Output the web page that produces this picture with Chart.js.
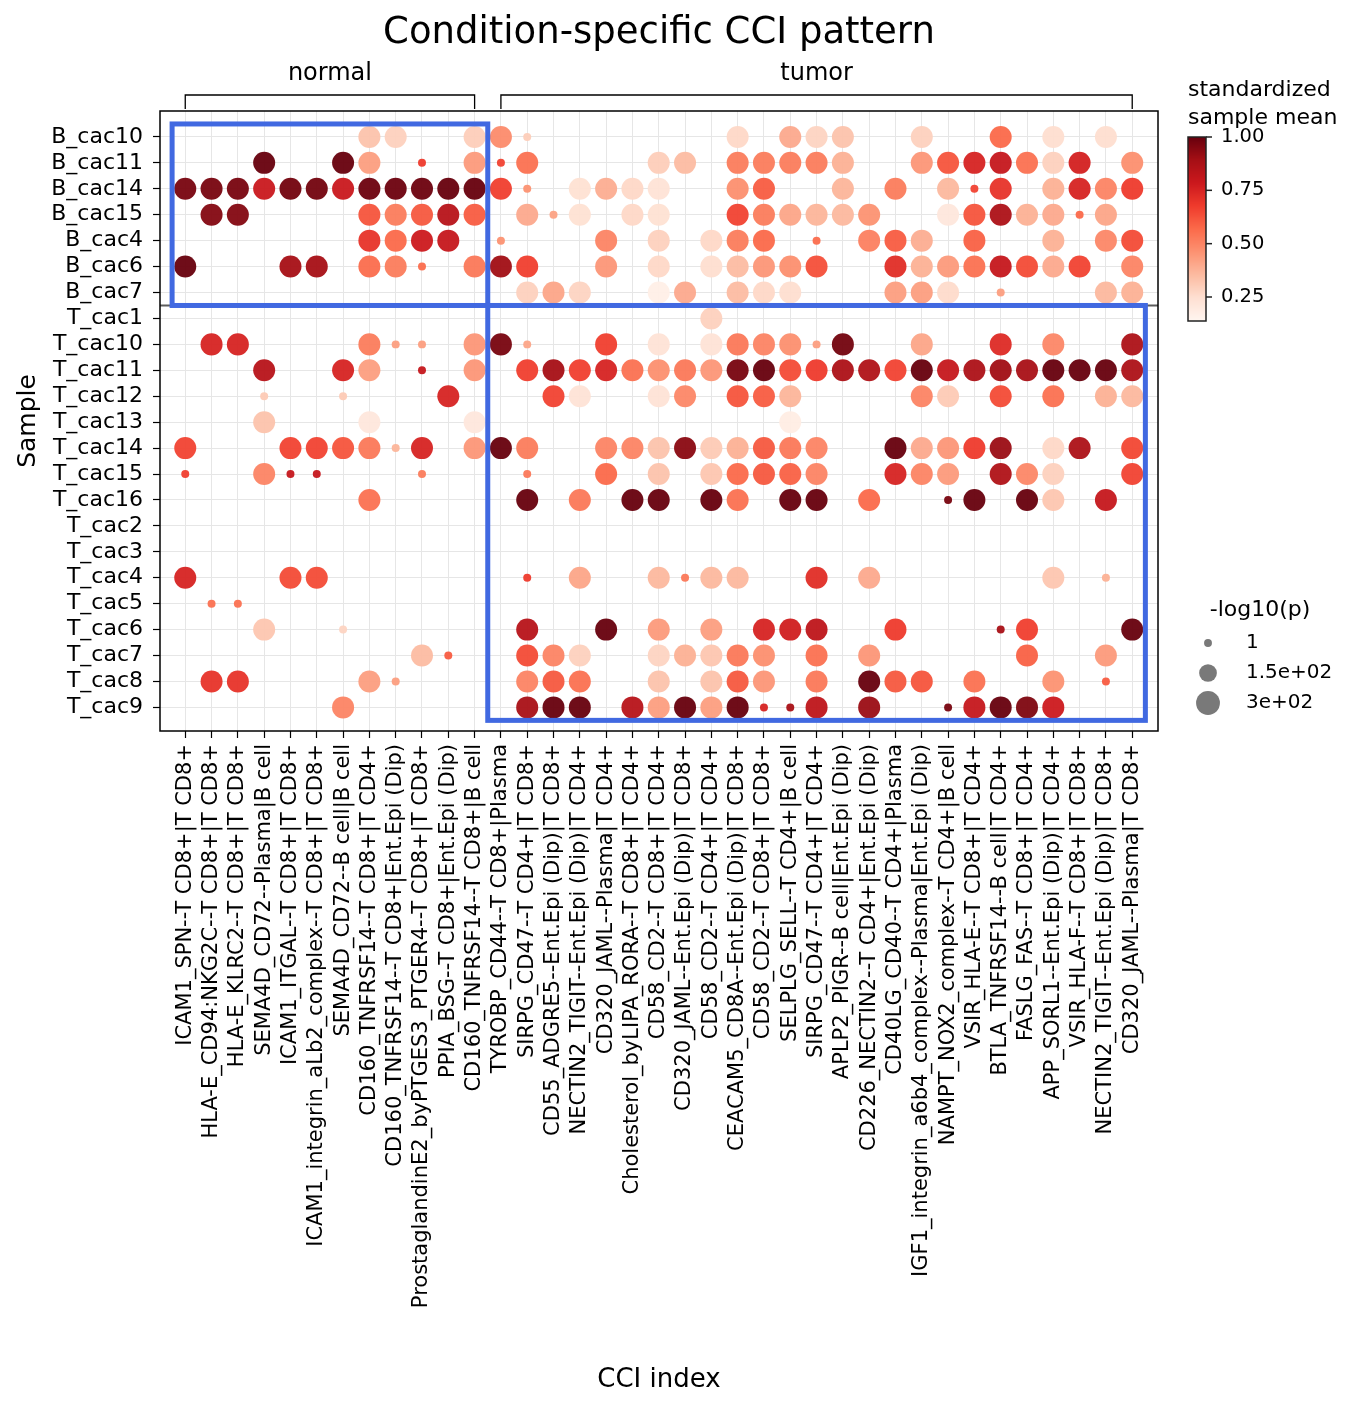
<!DOCTYPE html>
<html>
<head>
<meta charset="utf-8">
<title>Condition-specific CCI pattern</title>
<script src="https://cdn.jsdelivr.net/npm/chart.js@4.4.1/dist/chart.umd.min.js"></script>
<style>
    html, body { margin: 0; padding: 0; background: #fff; }
    #wrap { width: 1359px; height: 1410px; }
</style>
</head>
<body>
<div id="wrap"><canvas id="cci_chart" width="1359" height="1410"></canvas></div>
<script>
var samples = ['B_cac10', 'B_cac11', 'B_cac14', 'B_cac15', 'B_cac4', 'B_cac6', 'B_cac7',
    'T_cac1', 'T_cac10', 'T_cac11', 'T_cac12', 'T_cac13', 'T_cac14', 'T_cac15', 'T_cac16',
    'T_cac2', 'T_cac3', 'T_cac4', 'T_cac5', 'T_cac6', 'T_cac7', 'T_cac8', 'T_cac9'];

var cciIndex = [
    'ICAM1_SPN--T CD8+|T CD8+',
    'HLA-E_CD94:NKG2C--T CD8+|T CD8+',
    'HLA-E_KLRC2--T CD8+|T CD8+',
    'SEMA4D_CD72--Plasma|B cell',
    'ICAM1_ITGAL--T CD8+|T CD8+',
    'ICAM1_integrin_aLb2_complex--T CD8+|T CD8+',
    'SEMA4D_CD72--B cell|B cell',
    'CD160_TNFRSF14--T CD8+|T CD4+',
    'CD160_TNFRSF14--T CD8+|Ent.Epi (Dip)',
    'ProstaglandinE2_byPTGES3_PTGER4--T CD8+|T CD8+',
    'PPIA_BSG--T CD8+|Ent.Epi (Dip)',
    'CD160_TNFRSF14--T CD8+|B cell',
    'TYROBP_CD44--T CD8+|Plasma',
    'SIRPG_CD47--T CD4+|T CD8+',
    'CD55_ADGRE5--Ent.Epi (Dip)|T CD8+',
    'NECTIN2_TIGIT--Ent.Epi (Dip)|T CD4+',
    'CD320_JAML--Plasma|T CD4+',
    'Cholesterol_byLIPA_RORA--T CD8+|T CD4+',
    'CD58_CD2--T CD8+|T CD4+',
    'CD320_JAML--Ent.Epi (Dip)|T CD8+',
    'CD58_CD2--T CD4+|T CD4+',
    'CEACAM5_CD8A--Ent.Epi (Dip)|T CD8+',
    'CD58_CD2--T CD8+|T CD8+',
    'SELPLG_SELL--T CD4+|B cell',
    'SIRPG_CD47--T CD4+|T CD4+',
    'APLP2_PIGR--B cell|Ent.Epi (Dip)',
    'CD226_NECTIN2--T CD4+|Ent.Epi (Dip)',
    'CD40LG_CD40--T CD4+|Plasma',
    'IGF1_integrin_a6b4_complex--Plasma|Ent.Epi (Dip)',
    'NAMPT_NOX2_complex--T CD4+|B cell',
    'VSIR_HLA-E--T CD8+|T CD4+',
    'BTLA_TNFRSF14--B cell|T CD4+',
    'FASLG_FAS--T CD8+|T CD4+',
    'APP_SORL1--Ent.Epi (Dip)|T CD4+',
    'VSIR_HLA-F--T CD8+|T CD8+',
    'NECTIN2_TIGIT--Ent.Epi (Dip)|T CD8+',
    'CD320_JAML--Plasma|T CD8+'
];

// condition groups (columns / rows)
var groupNames = ['normal', 'tumor'];
var groupColumnCounts = [12, 25];
var normalSampleCount = 7;

// standardized sample mean, one row per sample (0 = no dot)
var meanRows = [
    [0,0,0,0,0,0,0,.33,.29,0, 0,.30,.48,.30,0,0,0,0,0,0, 0,.27,0,.40,.28,.33,0,0,.29,0, 0,.57,0,.25,0,.25,0],
    [0,0,0,1,0,0,1,.43,0,.68, 0,.44,.66,.55,0,0,0,0,.30,.35, 0,.52,.52,.52,.52,.38,0,0,.45,.62, .75,.80,.55,.29,.76,0,.47],
    [.97,.97,.97,.79,.98,.98,.79,.99,.99,.99, 1,1,.67,.46,0,.24,.39,.27,.23,0, 0,.47,.60,0,0,.37,0,.52,0,.36, .66,.70,0,.38,.75,.50,.68],
    [0,.95,.95,0,0,0,0,.62,.52,.61, .84,.60,0,.40,.42,.24,0,.27,.24,0, 0,.66,.52,.41,.37,.36,.46,0,0,.21, .62,.87,.38,.40,.57,.41,0],
    [0,0,0,0,0,0,0,.70,.57,.78, .80,0,.46,0,0,0,.50,0,.29,0, .27,.52,.57,0,.56,0,.51,.60,.39,0, .59,0,0,.38,0,.49,.64],
    [1,0,0,0,.89,.89,0,.56,.52,.56, 0,.53,.90,.67,0,0,.45,0,.27,0, .25,.35,.45,.47,.63,0,0,.72,.38,.44, .55,.80,.64,.40,.66,0,.50],
    [0,0,0,0,0,0,0,0,0,0, 0,0,0,.29,.41,.28,0,0,.17,.40, 0,.35,.27,.25,0,0,0,.43,.43,.26, 0,.43,0,0,0,.36,.38],
    [0,0,0,0,0,0,0,0,0,0, 0,0,0,0,0,0,0,0,0,0, .29,0,0,0,0,0,0,0,0,0, 0,0,0,0,0,0,0],
    [0,.75,.75,0,0,0,0,.52,.43,.43, 0,.45,.97,.41,0,0,.67,0,.23,0, .23,.53,.50,.47,.43,.98,0,0,.41,0, 0,.73,0,.49,0,0,.87],
    [0,0,0,.84,0,0,.75,.43,0,.80, 0,.45,0,.67,.89,.67,.75,.55,.47,.53, .45,.97,1,.64,.68,.87,.86,.66,1,.80, .87,.90,.88,1,1,1,.87],
    [0,0,0,.31,0,0,.31,0,0,0, .75,0,0,0,.66,.23,0,0,.23,.49, 0,.62,.60,.37,0,0,0,0,.50,.31, 0,.64,0,.55,0,.38,.36],
    [0,0,0,.33,0,0,0,.21,0,0, 0,.21,0,0,0,0,0,0,0,0, 0,0,0,.18,0,0,0,0,0,0, 0,0,0,0,0,0,0],
    [.66,0,0,0,.66,.66,.62,.53,.37,.75, 0,.45,1,.52,0,0,.50,.50,.33,.94, .31,.38,.61,.53,.50,0,0,1,.40,.45, .68,.91,0,.27,.87,0,.65],
    [.67,0,0,.50,.80,.80,0,0,0,.52, 0,0,0,.53,0,0,.57,0,.33,0, .32,.57,.61,.59,.50,0,0,.75,.50,.44, 0,.86,.49,.29,0,0,.66],
    [0,0,0,0,0,0,0,.55,0,0, 0,0,0,1,0,.53,0,1,1,0, 1,.55,0,1,1,0,.57,0,0,.97, 1,0,1,.32,0,.80,0],
    [0,0,0,0,0,0,0,0,0,0, 0,0,0,0,0,0,0,0,0,0, 0,0,0,0,0,0,0,0,0,0, 0,0,0,0,0,0,0],
    [0,0,0,0,0,0,0,0,0,0, 0,0,0,0,0,0,0,0,0,0, 0,0,0,0,0,0,0,0,0,0, 0,0,0,0,0,0,0],
    [.75,0,0,0,.64,.64,0,0,0,0, 0,0,0,.68,0,.41,0,0,.36,.53, .36,.36,0,0,.72,0,.40,0,0,0, 0,0,0,.32,0,.38,0],
    [0,.55,.55,0,0,0,0,0,0,0, 0,0,0,0,0,0,0,0,0,0, 0,0,0,0,0,0,0,0,0,0, 0,0,0,0,0,0,0],
    [0,0,0,.32,0,0,.28,0,0,0, 0,0,0,.84,0,0,1,0,.44,0, .43,0,.75,.77,.82,0,0,.68,0,0, 0,.88,.67,0,0,0,1],
    [0,0,0,0,0,0,0,0,0,.35, .60,0,0,.64,.50,.29,0,0,.28,.38, .32,.53,.47,0,.55,0,.45,0,0,0, 0,0,.59,0,0,.44,0],
    [0,.70,.70,0,0,0,0,.43,.43,0, 0,0,0,.50,.61,.55,0,0,.33,0, .33,.61,.45,0,.53,0,1,.61,.62,0, .55,0,0,.46,0,.60,0],
    [0,0,0,0,0,0,.50,0,0,0, 0,0,0,.88,1,1,0,.84,.43,1, .43,1,.75,.88,.82,0,.91,0,0,.97, .80,1,.96,.78,0,0,0]
];

// -log10(p), same layout as meanRows
var logpRows = [
    [0,0,0,0,0,0,0,250,250,0, 0,250,250,2,0,0,0,0,0,0, 0,250,0,250,250,250,0,0,250,0, 0,250,0,250,0,250,0],
    [0,0,0,250,0,0,250,250,0,2, 0,250,2,250,0,0,0,0,250,250, 0,250,250,250,250,250,0,0,250,250, 250,250,250,250,250,0,250],
    [250,250,250,250,250,250,250,250,250,250, 250,250,250,2,0,250,250,250,250,0, 0,250,250,0,0,250,0,250,0,250, 2,250,0,250,250,250,250],
    [0,250,250,0,0,0,0,250,250,250, 250,250,0,250,2,250,0,250,250,0, 0,250,250,250,250,250,250,0,0,250, 250,250,250,250,2,250,0],
    [0,0,0,0,0,0,0,250,250,250, 250,0,2,0,0,0,250,0,250,0, 250,250,250,0,2,0,250,250,250,0, 250,0,0,250,0,250,250],
    [250,0,0,0,250,250,0,250,250,2, 0,250,250,250,0,0,250,0,250,0, 250,250,250,250,250,0,0,250,250,250, 250,250,250,250,250,0,250],
    [0,0,0,0,0,0,0,0,0,0, 0,0,0,250,250,250,0,0,250,250, 0,250,250,250,0,0,0,250,250,250, 0,2,0,0,0,250,250],
    [0,0,0,0,0,0,0,0,0,0, 0,0,0,0,0,0,0,0,0,0, 250,0,0,0,0,0,0,0,0,0, 0,0,0,0,0,0,0],
    [0,250,250,0,0,0,0,250,2,2, 0,250,250,2,0,0,250,0,250,0, 250,250,250,250,2,250,0,0,250,0, 0,250,0,250,0,0,250],
    [0,0,0,250,0,0,250,250,0,2, 0,250,0,250,250,250,250,250,250,250, 250,250,250,250,250,250,250,250,250,250, 250,250,250,250,250,250,250],
    [0,0,0,2,0,0,2,0,0,0, 250,0,0,0,250,250,0,0,250,250, 0,250,250,250,0,0,0,0,250,250, 0,250,0,250,0,250,250],
    [0,0,0,250,0,0,0,250,0,0, 0,250,0,0,0,0,0,0,0,0, 0,0,0,250,0,0,0,0,0,0, 0,0,0,0,0,0,0],
    [250,0,0,0,250,250,250,250,2,250, 0,250,250,250,0,0,250,250,250,250, 250,250,250,250,250,0,0,250,250,250, 250,250,0,250,250,0,250],
    [2,0,0,250,2,2,0,0,0,2, 0,0,0,2,0,0,250,0,250,0, 250,250,250,250,250,0,0,250,250,250, 0,250,250,250,0,0,250],
    [0,0,0,0,0,0,0,250,0,0, 0,0,0,250,0,250,0,250,250,0, 250,250,0,250,250,0,250,0,0,2, 250,0,250,250,0,250,0],
    [0,0,0,0,0,0,0,0,0,0, 0,0,0,0,0,0,0,0,0,0, 0,0,0,0,0,0,0,0,0,0, 0,0,0,0,0,0,0],
    [0,0,0,0,0,0,0,0,0,0, 0,0,0,0,0,0,0,0,0,0, 0,0,0,0,0,0,0,0,0,0, 0,0,0,0,0,0,0],
    [250,0,0,0,250,250,0,0,0,0, 0,0,0,2,0,250,0,0,250,2, 250,250,0,0,250,0,250,0,0,0, 0,0,0,250,0,2,0],
    [0,2,2,0,0,0,0,0,0,0, 0,0,0,0,0,0,0,0,0,0, 0,0,0,0,0,0,0,0,0,0, 0,0,0,0,0,0,0],
    [0,0,0,250,0,0,2,0,0,0, 0,0,0,250,0,0,250,0,250,0, 250,0,250,250,250,0,0,250,0,0, 0,2,250,0,0,0,250],
    [0,0,0,0,0,0,0,0,0,250, 2,0,0,250,250,250,0,0,250,250, 250,250,250,0,250,0,250,0,0,0, 0,0,250,0,0,250,0],
    [0,250,250,0,0,0,0,250,2,0, 0,0,0,250,250,250,0,0,250,0, 250,250,250,0,250,0,250,250,250,0, 250,0,0,250,0,2,0],
    [0,0,0,0,0,0,250,0,0,0, 0,0,0,250,250,250,0,250,250,250, 250,250,2,2,250,0,250,0,0,2, 250,250,250,250,0,0,0]
];

var colorTicks = [0.25, 0.50, 0.75, 1.00];
var colorMin = 0.1375;
var colorMax = 1.0;
var sizeLegendValues = [1, 150, 300];
var sizeLegendLabels = ['1', '1.5e+02', '3e+02'];

var FONT = 'DejaVu Sans';

// matplotlib Reds
var REDS = [[255,245,240],[254,224,210],[252,187,161],[252,146,114],[251,106,74],
            [239,59,44],[203,24,29],[165,15,21],[103,0,13]];

function redsColor(v, alpha) {
    var t = (v - colorMin) / (colorMax - colorMin);
    t = Math.max(0, Math.min(1, t)) * (REDS.length - 1);
    var i = Math.min(Math.floor(t), REDS.length - 2), f = t - i;
    var c = [0, 1, 2].map(function (k) {
        return Math.round(REDS[i][k] + (REDS[i + 1][k] - REDS[i][k]) * f);
    });
    return 'rgba(' + c.join(',') + ',' + alpha + ')';
}

function dotRadius(logp) {
    return Math.sqrt(60.6 + 1.694 * logp) / 2;
}

var points = [], pointColors = [];
for (var i = 0; i < samples.length; i++) {
    for (var j = 0; j < cciIndex.length; j++) {
        if (meanRows[i][j] > 0) {
            points.push({x: j, y: i, r: dotRadius(logpRows[i][j])});
            pointColors.push(redsColor(meanRows[i][j], 0.95));
        }
    }
}

function strokeLine(ctx, x1, y1, x2, y2) {
    ctx.beginPath();
    ctx.moveTo(x1, y1);
    ctx.lineTo(x2, y2);
    ctx.stroke();
}

// 제목, 그룹 표시, 색상바, 크기 범례
var decorPlugin = {
    id: 'decor',
    afterDatasetsDraw: function (chart) {
        var ctx = chart.ctx, xs = chart.scales.x, ys = chart.scales.y, a = chart.chartArea;
        ctx.save();

        // B / T separator
        var ySep = ys.getPixelForValue(normalSampleCount - 0.5);
        ctx.strokeStyle = '#5c5c5c';
        ctx.lineWidth = 2;
        strokeLine(ctx, a.left, ySep, a.right, ySep);

        // condition-specific blocks
        var colSplit = xs.getPixelForValue(groupColumnCounts[0] - 0.5);
        ctx.strokeStyle = '#4169e1';
        ctx.lineWidth = 5;
        var x0 = xs.getPixelForValue(-0.5), y0 = ys.getPixelForValue(-0.5);
        ctx.strokeRect(x0, y0, colSplit - x0, ySep - y0);
        var x1 = xs.getPixelForValue(cciIndex.length - 0.5), y1 = ys.getPixelForValue(samples.length - 0.5);
        ctx.strokeRect(colSplit, ySep, x1 - colSplit, y1 - ySep);

        // frame
        ctx.strokeStyle = '#000';
        ctx.lineWidth = 1.5;
        ctx.strokeRect(a.left, a.top, a.right - a.left, a.bottom - a.top);

        // group brackets
        ctx.lineWidth = 1.3;
        ctx.fillStyle = '#000';
        ctx.font = '24px "' + FONT + '"';
        ctx.textAlign = 'center';
        ctx.textBaseline = 'middle';
        var start = 0;
        for (var g = 0; g < groupNames.length; g++) {
            var gx0 = xs.getPixelForValue(start), gx1 = xs.getPixelForValue(start + groupColumnCounts[g] - 1);
            ctx.beginPath();
            ctx.moveTo(gx0, a.top - 2);
            ctx.lineTo(gx0, 95);
            ctx.lineTo(gx1, 95);
            ctx.lineTo(gx1, a.top - 2);
            ctx.stroke();
            ctx.fillText(groupNames[g], (gx0 + gx1) / 2, 74);
            start += groupColumnCounts[g];
        }

        // title
        ctx.font = '37px "' + FONT + '"';
        ctx.fillText('Condition-specific CCI pattern', (a.left + a.right) / 2, 33);

        // colorbar
        var cbL = 1188, cbR = 1206, cbT = 137, cbB = 321;
        for (var yy = cbT; yy < cbB; yy++) {
            var v = colorMax - (yy + 0.5 - cbT) / (cbB - cbT) * (colorMax - colorMin);
            ctx.fillStyle = redsColor(v, 1);
            ctx.fillRect(cbL, yy, cbR - cbL, 1);
        }
        ctx.strokeStyle = '#222';
        ctx.lineWidth = 1.5;
        ctx.strokeRect(cbL, cbT, cbR - cbL, cbB - cbT);
        ctx.fillStyle = '#000';
        ctx.textAlign = 'left';
        ctx.font = '19.5px "' + FONT + '"';
        colorTicks.forEach(function (t) {
            var ty = cbB - (t - colorMin) / (colorMax - colorMin) * (cbB - cbT);
            strokeLine(ctx, cbR, ty, cbR + 6, ty);
            ctx.fillText(t.toFixed(2), cbR + 15, ty);
        });
        ctx.font = '22px "' + FONT + '"';
        ctx.fillText('standardized', cbL, 90);
        ctx.fillText('sample mean', cbL, 118);

        // size legend
        ctx.textAlign = 'center';
        ctx.fillText('-log10(p)', 1260, 610);
        ctx.textAlign = 'left';
        ctx.font = '20px "' + FONT + '"';
        var legendY = [643, 673, 703];
        sizeLegendValues.forEach(function (s, k) {
            ctx.fillStyle = 'rgba(110,110,110,0.92)';
            ctx.beginPath();
            ctx.arc(1208, legendY[k], dotRadius(s), 0, Math.PI * 2);
            ctx.fill();
            ctx.fillStyle = '#000';
            ctx.fillText(sizeLegendLabels[k], 1246, legendY[k]);
        });

        ctx.restore();
    }
};

Chart.defaults.font.family = FONT;
Chart.defaults.color = '#000';

new Chart(document.getElementById('cci_chart').getContext('2d'), {
    type: 'bubble',
    data: {
        datasets: [{
            data: points,
            backgroundColor: pointColors,
            borderWidth: 0,
            hoverRadius: 0
        }]
    },
    options: {
        responsive: false,
        animation: false,
        events: [],
        layout: {padding: {top: 111, right: 201, bottom: 0, left: 0}},
        plugins: {legend: {display: false}, tooltip: {enabled: false}},
        scales: {
            x: {
                type: 'linear',
                min: -0.96,
                max: 36.98,
                afterBuildTicks: function (s) {
                    s.ticks = cciIndex.map(function (_, k) { return {value: k}; });
                },
                afterFit: function (s) { s.height = 679; },
                border: {display: false},
                grid: {color: '#e6e6e6', tickColor: '#000', tickLength: 7, tickWidth: 1.2},
                ticks: {
                    autoSkip: false, minRotation: 90, maxRotation: 90, padding: 6,
                    font: {size: 21},
                    callback: function (v) { return cciIndex[v]; }
                },
                title: {display: true, text: 'CCI index', font: {size: 26}, padding: {top: 0, bottom: 14}}
            },
            y: {
                type: 'linear',
                min: -1,
                max: 22.91,
                reverse: true,
                afterBuildTicks: function (s) {
                    s.ticks = samples.map(function (_, k) { return {value: k}; });
                },
                afterFit: function (s) { s.width = 160; },
                border: {display: false},
                grid: {color: '#e6e6e6', tickColor: '#000', tickLength: 7, tickWidth: 1.2},
                ticks: {
                    autoSkip: false,
                    padding: 10,
                    font: {size: 22},
                    callback: function (v) { return samples[v]; }
                },
                title: {display: true, text: 'Sample', font: {size: 25}, padding: {top: 13, bottom: 0}}
            }
        }
    },
    plugins: [decorPlugin]
});
</script>
</body>
</html>
